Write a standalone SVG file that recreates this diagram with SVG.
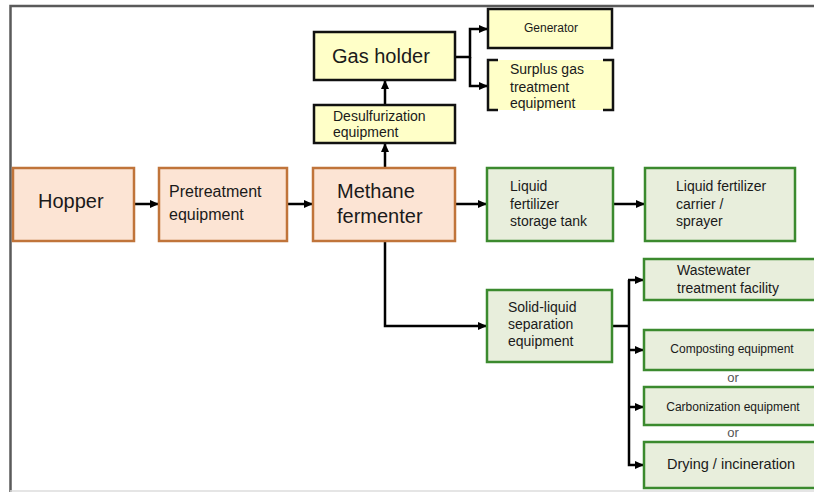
<svg xmlns="http://www.w3.org/2000/svg" width="814" height="492" viewBox="0 0 814 492">
<defs>
<style>
text{font-family:"Liberation Sans",Arial,sans-serif;fill:#1a1a1a}
.peach{fill:#fce4d4;stroke:#c0743a;stroke-width:2.5}
.yellow{fill:#ffffc8;stroke:#111;stroke-width:2.5}
.green{fill:#e8eedc;stroke:#3b8a2e;stroke-width:2.5}
.conn{fill:none;stroke:#000;stroke-width:2.5}
.big{font-size:20px}
.mid{font-size:16px}
.sm{font-size:14px}
.xs{font-size:12px}
.or{font-size:13px;fill:#555}
</style>
<marker id="ah" markerWidth="9" markerHeight="8" refX="9" refY="4" orient="auto" markerUnits="userSpaceOnUse">
<path d="M0,0 L9,4 L0,8 z" fill="#000"/>
</marker>
</defs>
<rect width="814" height="492" fill="#fff"/>
<path d="M10.5,492 V6 H814" fill="none" stroke="#5a5a5a" stroke-width="2.5"/>
<line x1="10" y1="491" x2="814" y2="491" stroke="#ddd" stroke-width="1.5"/>

<g id="connectors">
<path class="conn" d="M134,204 H159" marker-end="url(#ah)"/>
<path class="conn" d="M287,204 H313" marker-end="url(#ah)"/>
<path class="conn" d="M385,168 V143" marker-end="url(#ah)"/>
<path class="conn" d="M385,105 V80" marker-end="url(#ah)"/>
<path class="conn" d="M455,57 H470 V29 H488" marker-end="url(#ah)"/>
<path class="conn" d="M470,57 V86 H488" marker-end="url(#ah)"/>
<path class="conn" d="M455,204 H487" marker-end="url(#ah)"/>
<path class="conn" d="M613,204 H645" marker-end="url(#ah)"/>
<path class="conn" d="M385,241 V326 H487" marker-end="url(#ah)"/>
<path class="conn" d="M612,326 H629"/>
<path class="conn" d="M629,280 V465 H644" marker-end="url(#ah)"/>
<path class="conn" d="M628,280 H644" marker-end="url(#ah)"/>
<path class="conn" d="M629,350 H644" marker-end="url(#ah)"/>
<path class="conn" d="M629,407 H644" marker-end="url(#ah)"/>
</g>

<g id="hopper">
<rect class="peach" x="13" y="168" width="121" height="73"/>
<text class="big" x="38" y="208">Hopper</text>
</g>
<g id="pretreatment">
<rect class="peach" x="159" y="168" width="128" height="73"/>
<text class="mid" x="169" y="197">Pretreatment</text>
<text class="mid" x="169" y="220">equipment</text>
</g>
<g id="methane">
<rect class="peach" x="313" y="168" width="142" height="73"/>
<text class="big" x="337" y="198">Methane</text>
<text class="big" x="337" y="223">fermenter</text>
</g>
<g id="desulfurization">
<rect class="yellow" x="314" y="105" width="141" height="38"/>
<text class="sm" x="333" y="121">Desulfurization</text>
<text class="sm" x="333" y="137">equipment</text>
</g>
<g id="gasholder">
<rect class="yellow" x="314" y="32" width="141" height="48"/>
<text class="big" x="332" y="63">Gas holder</text>
</g>
<g id="generator">
<rect class="yellow" x="488" y="9" width="124" height="39"/>
<text class="xs" x="551" y="32" text-anchor="middle">Generator</text>
</g>
<g id="surplus">
<rect x="488" y="60" width="125" height="50" fill="#ffffc8"/>
<path d="M498,60 H488 V110 H498 M603,60 H613 V110 H603" fill="none" stroke="#111" stroke-width="2.5"/>
<text class="sm" x="510" y="74">Surplus gas</text>
<text class="sm" x="510" y="92">treatment</text>
<text class="sm" x="510" y="108">equipment</text>
</g>
<g id="liquidtank">
<rect class="green" x="487" y="168" width="126" height="73"/>
<text class="sm" x="510" y="191">Liquid</text>
<text class="sm" x="510" y="209">fertilizer</text>
<text class="sm" x="510" y="226">storage tank</text>
</g>
<g id="carrier">
<rect class="green" x="645" y="168" width="150" height="73"/>
<text class="sm" x="676" y="191">Liquid fertilizer</text>
<text class="sm" x="676" y="209">carrier /</text>
<text class="sm" x="676" y="226">sprayer</text>
</g>
<g id="wastewater">
<rect class="green" x="644" y="259" width="180" height="41"/>
<text class="sm" x="677" y="275">Wastewater</text>
<text class="sm" x="677" y="293">treatment facility</text>
</g>
<g id="solidliquid">
<rect class="green" x="487" y="290" width="125" height="72"/>
<text class="sm" x="508" y="312">Solid-liquid</text>
<text class="sm" x="508" y="329">separation</text>
<text class="sm" x="508" y="346">equipment</text>
</g>
<g id="composting">
<rect class="green" x="644" y="330" width="180" height="40"/>
<text class="xs" x="732" y="353" text-anchor="middle">Composting equipment</text>
</g>
<text class="or" x="733" y="382" text-anchor="middle">or</text>
<g id="carbonization">
<rect class="green" x="644" y="387" width="180" height="38"/>
<text class="xs" x="733" y="411" text-anchor="middle">Carbonization equipment</text>
</g>
<text class="or" x="733" y="437" text-anchor="middle">or</text>
<g id="drying">
<rect class="green" x="644" y="442" width="180" height="46"/>
<text x="731" y="469" text-anchor="middle" font-size="14.5">Drying / incineration</text>
</g>
</svg>
